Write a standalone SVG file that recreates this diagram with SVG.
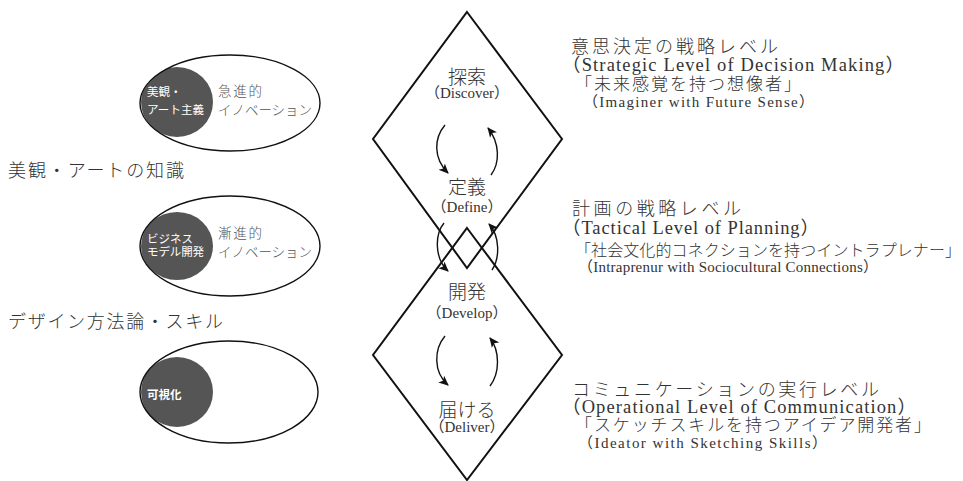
<svg xmlns="http://www.w3.org/2000/svg" width="963" height="481" viewBox="0 0 963 481">
<style>
.bg{fill:#fff}
.ell{fill:none;stroke:#111;stroke-width:1.4}
.dot{fill:#555}
.wt{fill:#fff;font-family:"Noto Sans CJK JP","Noto Sans",sans-serif;font-size:11.5px}
.gt{fill:#555;font-family:"Noto Sans CJK JP","Noto Sans",sans-serif;font-size:13.5px;font-weight:300}
.jp{fill:#333;font-family:"Noto Sans CJK JP","Liberation Serif",serif;font-weight:300}
.en{fill:#333;font-family:"Liberation Serif","Noto Sans CJK JP",serif;font-weight:normal}
.dia{fill:none;stroke:#111;stroke-width:2}
.arc{fill:none;stroke:#111;stroke-width:1.4;marker-end:url(#ah)}
</style>
<defs>
<marker id="ah" markerUnits="userSpaceOnUse" markerWidth="12" markerHeight="10" refX="9" refY="5" orient="auto">
<path d="M0,0.5 L10,5 L0,9.5 L2.5,5 Z" fill="#111"/>
</marker>
<clipPath id="c1"><ellipse cx="230" cy="103" rx="90" ry="48"/></clipPath>
<clipPath id="c2"><ellipse cx="230" cy="246" rx="90" ry="50"/></clipPath>
<clipPath id="c3"><ellipse cx="229" cy="392" rx="89" ry="51"/></clipPath>
</defs>
<rect class="bg" x="0" y="0" width="963" height="481"/>

<g id="label-art">
<text class="jp" x="8" y="177" font-size="18" textLength="176">美観・アートの知識</text>
</g>
<g id="label-design">
<text class="jp" x="8" y="328" font-size="18" textLength="215">デザイン方法論・スキル</text>
</g>

<g id="node-radical">
<ellipse cx="177" cy="102" rx="36" ry="35" class="dot" clip-path="url(#c1)"/>
<ellipse cx="230" cy="103" rx="90" ry="48" class="ell"/>
<text class="wt" x="147" y="96">美観・</text>
<text class="wt" x="147" y="114" textLength="57">アート主義</text>
<text class="gt" x="218" y="96" textLength="44">急進的</text>
<text class="gt" x="218" y="115" textLength="94">イノベーション</text>
</g>

<g id="node-incremental">
<ellipse cx="177" cy="246" rx="36" ry="34" class="dot" clip-path="url(#c2)"/>
<ellipse cx="230" cy="246" rx="90" ry="50" class="ell"/>
<text class="wt" x="147" y="243">ビジネス</text>
<text class="wt" x="147" y="256" textLength="57">モデル開発</text>
<text class="gt" x="218" y="238" textLength="44">漸進的</text>
<text class="gt" x="218" y="257" textLength="94">イノベーション</text>
</g>

<g id="node-visual">
<ellipse cx="177" cy="392" rx="36" ry="35" class="dot" clip-path="url(#c3)"/>
<ellipse cx="229" cy="392" rx="89" ry="51" class="ell"/>
<text class="wt" x="147" y="399" font-size="15" font-weight="bold">可視化</text>
</g>

<g id="diamond-top">
<path class="dia" d="M467,12 L562,139 L467,268 L373,139 Z"/>
<text class="jp" x="467" y="84" font-size="19" text-anchor="middle" fill="#444">探索</text>
<text class="en" x="467" y="98" font-size="15" text-anchor="middle" fill="#444">（Discover）</text>
<text class="jp" x="467" y="194" font-size="19" text-anchor="middle" fill="#444">定義</text>
<text class="en" x="467" y="212" font-size="15" text-anchor="middle" fill="#444">（Define）</text>
</g>

<g id="diamond-bottom">
<path class="dia" d="M467,228 L562,355 L467,480 L373,355 Z"/>
<text class="jp" x="467" y="299" font-size="19" text-anchor="middle" fill="#444">開発</text>
<text class="en" x="467" y="318" font-size="15" text-anchor="middle" fill="#444">（Develop）</text>
<text class="jp" x="467" y="417" font-size="19" text-anchor="middle" fill="#444">届ける</text>
<text class="en" x="467" y="432" font-size="15" text-anchor="middle" fill="#444">（Deliver）</text>
</g>

<g id="connectors">
<path class="arc" d="M445,125 C434,138 433,158 448,173"/>
<path class="arc" d="M491,175 C500,163 500,143 488,128"/>
<path class="arc" d="M444,223 C435,234 434,258 448,271"/>
<path class="arc" d="M492,270 C500,258 500,236 489,224"/>
<path class="arc" d="M445,336 C434,349 433,372 448,385"/>
<path class="arc" d="M490,386 C500,373 500,351 490,338"/>
</g>

<g id="level-strategic">
<text class="jp" x="571" y="53" font-size="18" textLength="207">意思決定の戦略レベル</text>
<text class="en" x="562" y="71" font-size="18.5" textLength="342">（Strategic Level of Decision Making）</text>
<text class="jp" x="575" y="90" font-size="17" textLength="226">「未来感覚を持つ想像者」</text>
<text class="en" x="583" y="107" font-size="15" textLength="231">（Imaginer with Future Sense）</text>
</g>

<g id="level-tactical">
<text class="jp" x="572" y="215" font-size="18" textLength="169">計画の戦略レベル</text>
<text class="en" x="562" y="234" font-size="18.5" textLength="257">（Tactical Level of Planning）</text>
<text class="jp" x="575" y="256" font-size="16" textLength="386">「社会文化的コネクションを持つイントラプレナー」</text>
<text class="en" x="578" y="272" font-size="15" textLength="300">（Intraprenur with Sociocultural Connections）</text>
</g>

<g id="level-operational">
<text class="jp" x="572" y="396" font-size="18" textLength="307">コミュニケーションの実行レベル</text>
<text class="en" x="562" y="413" font-size="18.5" textLength="354">（Operational Level of Communication）</text>
<text class="jp" x="575" y="431" font-size="17" textLength="356">「スケッチスキルを持つアイデア開発者」</text>
<text class="en" x="578" y="448" font-size="15" textLength="249">（Ideator with Sketching Skills）</text>
</g>
</svg>
